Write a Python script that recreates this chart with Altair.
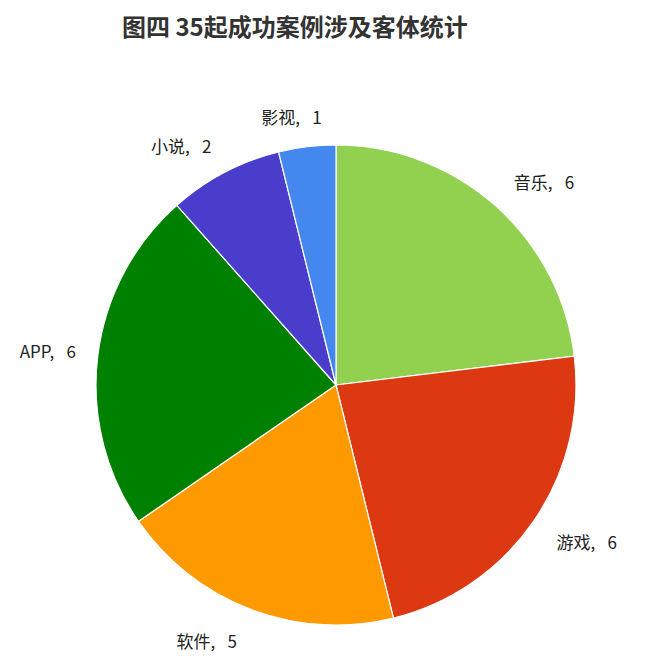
import altair as alt
import pandas as pd

categories = ["音乐", "游戏", "软件", "APP", "小说", "影视"]
values = [6, 6, 5, 6, 2, 1]
colors = ["#92d050", "#dc3912", "#ff9900", "#008000", "#4b3dcc", "#4487ee"]

df = pd.DataFrame({
    "cat": categories,
    "val": values,
    "idx": list(range(len(categories))),
    "label": [f"{c},\u2002 {v}" for c, v in zip(categories, values)],
})

base = alt.Chart(df).encode(
    theta=alt.Theta("val:Q", stack=True),
    order=alt.Order("idx:Q", sort="ascending"),
    x=alt.value(328),
    y=alt.value(317),
)

pie = base.mark_arc(outerRadius=240, stroke="white", strokeWidth=1.2).encode(
    color=alt.Color("cat:N", scale=alt.Scale(domain=categories, range=colors), legend=None)
)

labels = base.mark_text(
    radius=268,
    font="Noto Sans CJK SC",
    fontSize=17,
    color="#222222",
    align=alt.ExprRef(expr="datum.idx < 2 ? 'left' : 'right'"),
    dy=alt.ExprRef(expr="(datum.idx == 1 || datum.idx == 2) ? 7 : 0"),
    dx=alt.ExprRef(expr="datum.idx == 5 ? 18 : (datum.idx == 3 ? 6 : (datum.idx == 2 ? -4 : 0))"),
).encode(text="label:N")

chart = (pie + labels).properties(
    width=629,
    height=592,
    autosize=alt.AutoSizeParams(type="none"),
    padding={"left": 0, "top": 60, "right": 0, "bottom": 0},
    title=alt.TitleParams(
        "图四 35起成功案例涉及客体统计",
        anchor="start",
        dx=114,
        offset=27,
        font="Noto Sans CJK SC",
        fontSize=24,
        fontWeight="bold",
        color="#333333",
    ),
).configure_view(stroke=None)

chart.save("out.html", embed_options={"renderer": "svg", "actions": False})
